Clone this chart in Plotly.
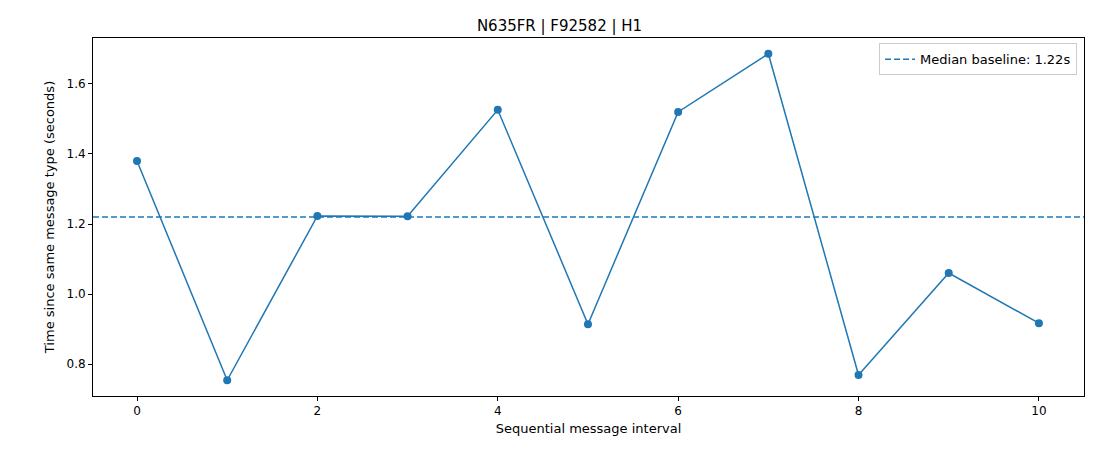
import plotly.graph_objects as go

intervals = list(range(11))
times = [1.380, 0.754, 1.223, 1.222, 1.526, 0.914, 1.520, 1.686, 0.769, 1.060, 0.917]
median = 1.22
title = "N635FR | F92582 | H1"
c = "#1f77b4"

fig = go.Figure()
fig.add_trace(go.Scatter(x=intervals, y=times, mode="lines+markers",
                         line=dict(color=c, width=1.5), marker=dict(size=8, color=c),
                         showlegend=False))
fig.add_trace(go.Scatter(x=[-0.488, 10.5], y=[median, median], mode="lines",
                         line=dict(color=c, width=1.5, dash="6px,3px"),
                         name=f"Median baseline: {median:.2f}s"))
ax = dict(showgrid=False, zeroline=False, showline=True, mirror=True, linecolor="black",
          linewidth=1, ticks="outside", ticklen=4, tickcolor="black",
          tickfont=dict(size=12, color="black"))
fig.update_layout(
    width=1103, height=454, plot_bgcolor="white", paper_bgcolor="white",
    font=dict(family="DejaVu Sans", color="black"),
    margin=dict(l=85, r=27, t=30, b=66),
    title=dict(text=title, x=0.5, xanchor="center", y=0.96, yanchor="middle", font=dict(size=15)),
    xaxis=dict(ax, range=[-0.488, 10.5], tickvals=[0, 2, 4, 6, 8, 10],
               title=dict(text="Sequential message interval", font=dict(size=13), standoff=6)),
    yaxis=dict(ax, range=[0.709, 1.731], tickvals=[0.8, 1.0, 1.2, 1.4, 1.6], tickformat=".1f",
               title=dict(text="Time since same message type (seconds)", font=dict(size=13), standoff=8)),
    legend=dict(x=0.993, y=0.985, xanchor="right", yanchor="top", bordercolor="#cccccc",
                borderwidth=1, bgcolor="white", font=dict(size=13)),
)
fig.write_html("out.html")
